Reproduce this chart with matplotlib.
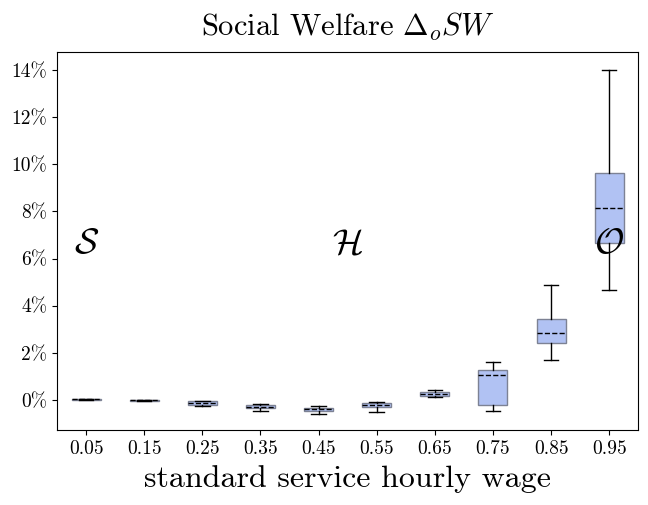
import matplotlib
matplotlib.use('Agg')
import matplotlib.pyplot as plt
from matplotlib.ticker import PercentFormatter

plt.rcParams['font.family'] = 'serif'
plt.rcParams['font.serif'] = ['cmr10']
plt.rcParams['mathtext.fontset'] = 'cm'
plt.rcParams['axes.unicode_minus'] = False
plt.rcParams['axes.formatter.use_mathtext'] = True

wages = ['0.05', '0.15', '0.25', '0.35', '0.45', '0.55', '0.65', '0.75', '0.85', '0.95']
# box statistics (in %)
whislo = [0.01, -0.03, -0.26, -0.45, -0.58, -0.52, 0.11, -0.48, 1.68, 4.67]
q1 = [0.02, -0.02, -0.21, -0.33, -0.47, -0.30, 0.18, -0.22, 2.42, 6.66]
med = [0.03, -0.01, -0.13, -0.28, -0.40, -0.22, 0.25, 1.05, 2.84, 8.15]
q3 = [0.04, 0.01, -0.05, -0.23, -0.33, -0.14, 0.33, 1.27, 3.42, 9.62]
whishi = [0.05, 0.02, -0.03, -0.16, -0.25, -0.07, 0.42, 1.60, 4.87, 13.98]

regions = ['$\\mathcal{S}$', '$\\mathcal{H}$', '$\\mathcal{O}$']
region_x = [1, 5.5, 10]
region_y = [6.6, 6.6, 6.6]

stats = []
for i in range(len(wages)):
    stats.append(dict(med=med[i], q1=q1[i], q3=q3[i], whislo=whislo[i],
                      whishi=whishi[i], fliers=[], label=wages[i]))

fig = plt.figure(figsize=(6.48, 5.05), dpi=100)
ax = fig.add_axes([0.088, 0.1485, 0.897, 0.7485])

ax.bxp(stats, patch_artist=True, widths=0.5,
       boxprops=dict(facecolor='#b1c2f3', edgecolor='#7d8294', linewidth=1),
       medianprops=dict(color='black', linestyle='--', linewidth=1),
       whiskerprops=dict(color='black', linewidth=1),
       capprops=dict(color='black', linewidth=1))

for t, x, y in zip(regions, region_x, region_y):
    ax.text(x, y, t, fontsize=26, ha='center', va='center')

ax.set_xlim(0.5, 10.5)
ax.set_ylim(-1.27, 14.76)
ax.set_yticks([0, 2, 4, 6, 8, 10, 12, 14])
ax.yaxis.set_major_formatter(PercentFormatter(decimals=0))
ax.tick_params(labelsize=14)
ax.set_xlabel('standard service hourly wage', fontsize=23, labelpad=5)
ax.set_title('Social Welfare $\\Delta_o SW$', fontsize=22, pad=12)

fig.savefig('out.png', dpi=100)
